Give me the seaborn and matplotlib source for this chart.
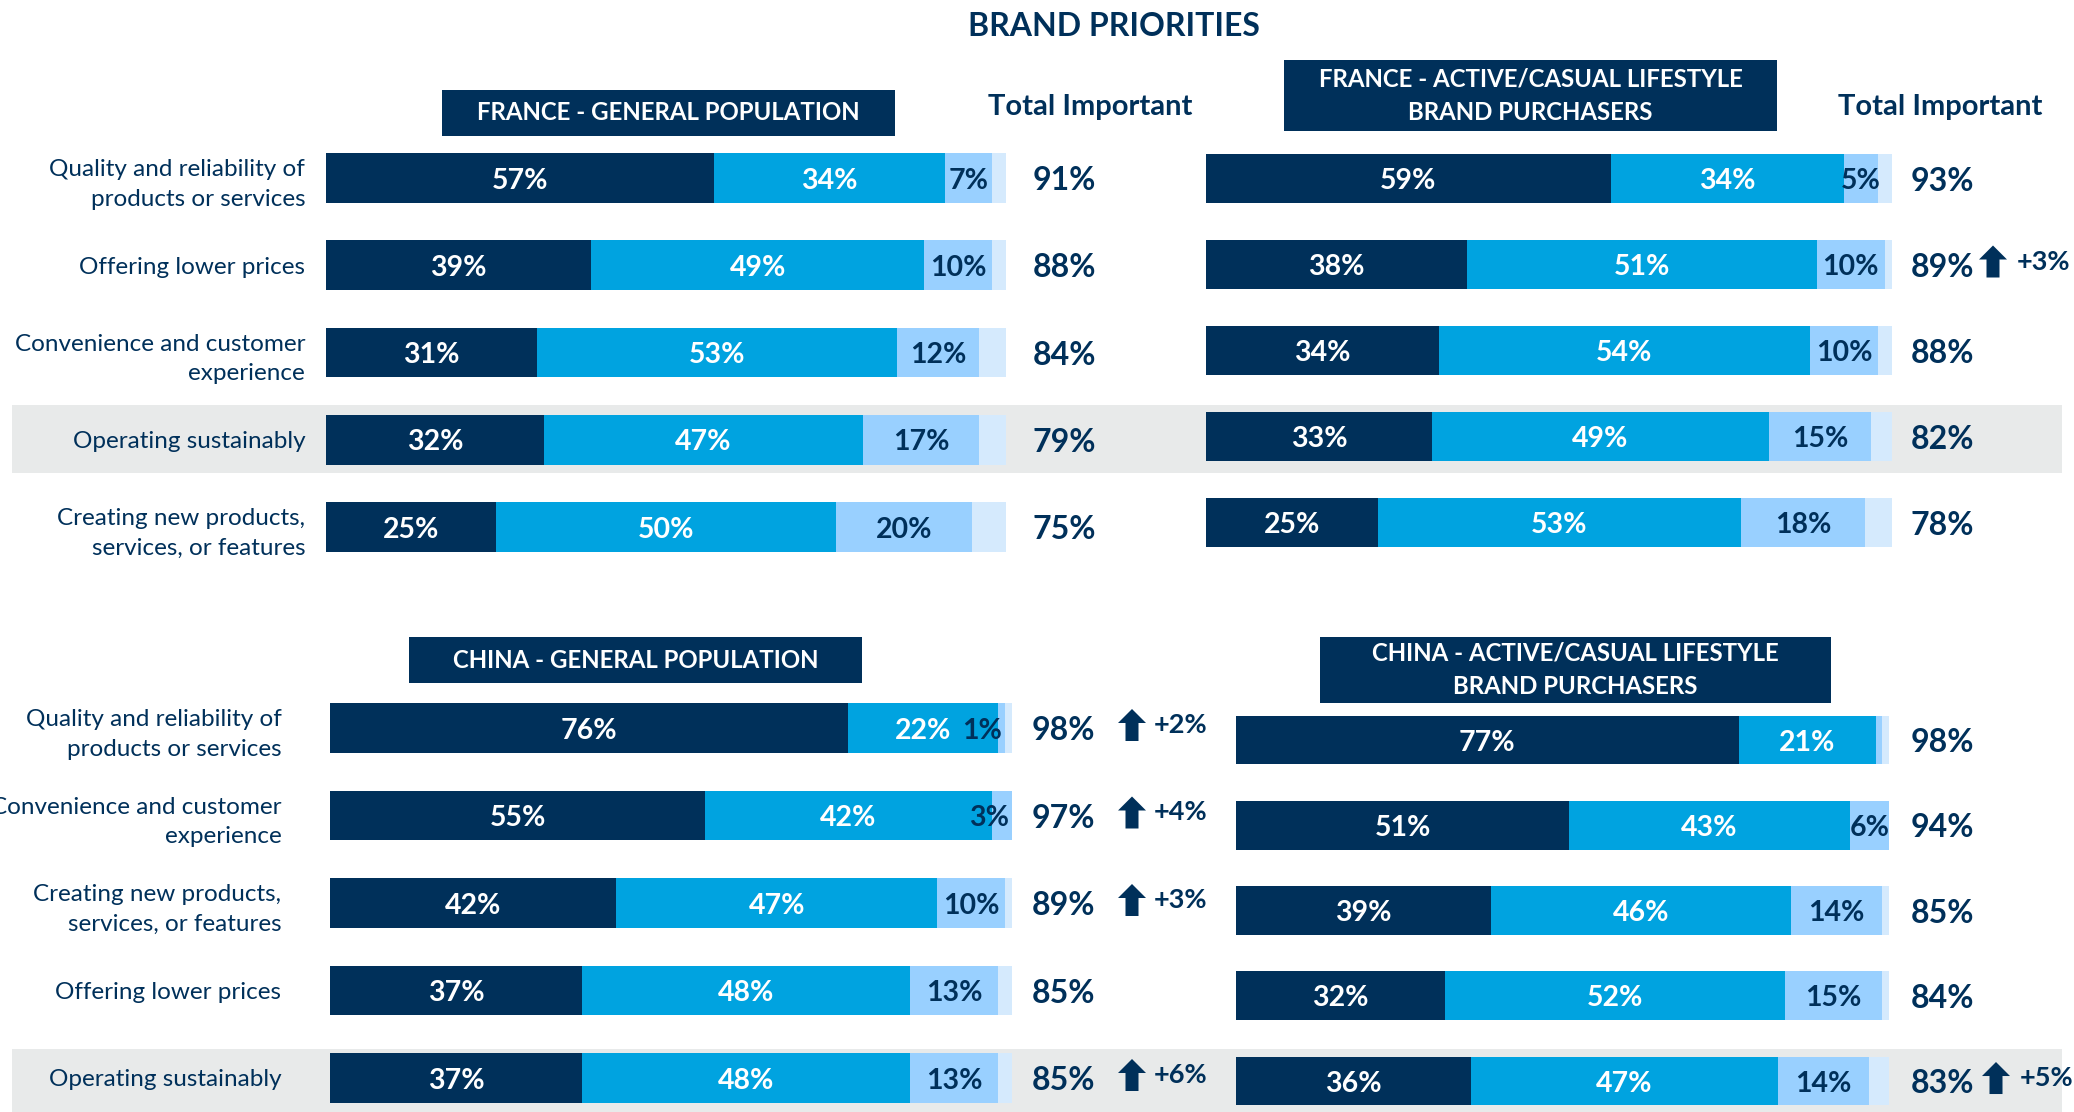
import matplotlib
matplotlib.use('Agg')
import matplotlib.pyplot as plt
import seaborn as sns
from matplotlib.patches import Rectangle, Polygon
from matplotlib.transforms import blended_transform_factory

# ---- data ----
france_cats = ["Quality and reliability of\nproducts or services", "Offering lower prices",
               "Convenience and customer\nexperience", "Operating sustainably",
               "Creating new products,\nservices, or features"]
china_cats = ["Quality and reliability of\nproducts or services", "Convenience and customer\nexperience",
              "Creating new products,\nservices, or features", "Offering lower prices",
              "Operating sustainably"]

fr_gen_very = [57, 39, 31, 32, 25]
fr_gen_somewhat = [34, 49, 53, 47, 50]
fr_gen_slightly = [7, 10, 12, 17, 20]
fr_gen_total = [91, 88, 84, 79, 75]
fr_gen_change = [0, 0, 0, 0, 0]

fr_act_very = [59, 38, 34, 33, 25]
fr_act_somewhat = [34, 51, 54, 49, 53]
fr_act_slightly = [5, 10, 10, 15, 18]
fr_act_total = [93, 89, 88, 82, 78]
fr_act_change = [0, 3, 0, 0, 0]

cn_gen_very = [76, 55, 42, 37, 37]
cn_gen_somewhat = [22, 42, 47, 48, 48]
cn_gen_slightly = [1, 3, 10, 13, 13]
cn_gen_total = [98, 97, 89, 85, 85]
cn_gen_change = [2, 4, 3, 0, 6]

cn_act_very = [77, 51, 39, 32, 36]
cn_act_somewhat = [21, 43, 46, 52, 47]
cn_act_slightly = [1, 6, 14, 15, 14]
cn_act_slight_shown = [False, True, True, True, True]
cn_act_total = [98, 94, 85, 84, 83]
cn_act_change = [0, 0, 0, 0, 5]

sns.set_style('white')
plt.rcParams['font.family'] = ['Lato', 'DejaVu Sans']

W, H = 2074, 1112
fig = plt.figure(figsize=(W / 100, H / 100), dpi=100)

NAVY = '#00305A'
MID = '#00A3E0'
LIGHT = '#99D0FF'
PALE = '#D5EAFD'
GREY = '#E8EAEA'


def px_rect(x, y, w, h, color, z):
    fig.add_artist(Rectangle((x / W, 1 - (y + h) / H), w / W, h / H, transform=fig.transFigure,
                             facecolor=color, edgecolor='none', zorder=z))


def up_arrow(cx, yc):
    top, bot = yc - 16, yc + 16
    pts = [(cx - 14, top + 14), (cx, top), (cx + 14, top + 14), (cx + 6.5, top + 14),
           (cx + 6.5, bot), (cx - 6.5, bot), (cx - 6.5, top + 14)]
    fig.add_artist(Polygon([(x / W, 1 - y / H) for x, y in pts], closed=True,
                           transform=fig.transFigure, facecolor=NAVY, edgecolor='none', zorder=5))


def header(x, y, w, h, txt):
    px_rect(x, y, w, h, NAVY, 3)
    fig.text((x + w / 2) / W, 1 - (y + h / 2) / H, txt, ha='center', va='center', color='white',
             fontsize=17.3, fontweight='bold', linespacing=1.55, zorder=4)


def panel(left, top, width, spacing, cats, very, somewhat, slightly, totals, changes,
          show_cats, label_pad, total_x, arrow_dx, delta_dx, slight_shown=None):
    ax = fig.add_axes([left / W, 1 - (top + 5 * spacing) / H, width / W, 5 * spacing / H])
    ax.set_facecolor('none')
    cum3 = [a + b + c for a, b, c in zip(very, somewhat, slightly)]
    cum2 = [a + b for a, b in zip(very, somewhat)]
    for vals, col in [([100] * 5, PALE), (cum3, LIGHT), (cum2, MID), (very, NAVY)]:
        sns.barplot(x=vals, y=cats, orient='h', color=col, saturation=1, width=0.57,
                    linewidth=0, ax=ax)
    ax.set_xlim(0, 100)
    ax.set_ylim(4.5, -0.5)
    ax.set_xticks([])
    ax.set_xlabel('')
    ax.set_ylabel('')
    sns.despine(ax=ax, left=True, bottom=True)
    ax.tick_params(axis='y', length=0, pad=label_pad)
    if show_cats:
        ax.set_yticks(range(5))
        ax.set_yticklabels(cats, fontsize=17.5, color=NAVY, linespacing=1.5)
    else:
        ax.set_yticklabels([])

    for i in range(5):
        segs = [(0, very[i], very[i], 'white', True),
                (very[i], cum2[i], somewhat[i], 'white', True),
                (cum2[i], cum3[i], slightly[i], NAVY,
                 True if slight_shown is None else slight_shown[i])]
        for a, b, v, c, show in segs:
            if not show:
                continue
            if b - a <= 3:
                ax.text(b - 0.4, i + 0.03, f'{v}%', ha='right', va='center', color=c,
                        fontsize=20.5, fontweight='bold')
            else:
                ax.text((a + b) / 2, i + 0.03, f'{v}%', ha='center', va='center', color=c,
                        fontsize=20.5, fontweight='bold')

    tr = blended_transform_factory(fig.transFigure, ax.transData)
    for i in range(5):
        ax.text(total_x / W, i + 0.03, f'{totals[i]}%', transform=tr, ha='left', va='center',
                color=NAVY, fontsize=23, fontweight='bold')
        if changes[i]:
            yc = top + spacing * (i + 0.5) - 3
            up_arrow(total_x + arrow_dx, yc)
            fig.text((total_x + delta_dx) / W, 1 - yc / H, f'+{changes[i]}%', ha='left',
                     va='center', color=NAVY, fontsize=19.5, fontweight='bold')
    return ax


# grey highlight bands
px_rect(12, 405, 2050, 68, GREY, -2)
px_rect(12, 1049, 2050, 63, GREY, -2)

fig.text(1114 / W, 1 - 27 / H, 'BRAND PRIORITIES', ha='center', va='center', color=NAVY,
         fontsize=23, fontweight='bold')

header(442, 90, 453, 46, 'FRANCE - GENERAL POPULATION')
header(1284, 60, 493, 71, 'FRANCE - ACTIVE/CASUAL LIFESTYLE\nBRAND PURCHASERS')
header(409, 637, 453, 46, 'CHINA - GENERAL POPULATION')
header(1320, 637, 511, 66, 'CHINA - ACTIVE/CASUAL LIFESTYLE\nBRAND PURCHASERS')

for cx in [1090, 1940]:
    fig.text(cx / W, 1 - 107 / H, 'Total Important', ha='center', va='center', color=NAVY,
             fontsize=21, fontweight='bold')

panel(326, 134.4, 680, 87.25, france_cats, fr_gen_very, fr_gen_somewhat, fr_gen_slightly,
      fr_gen_total, fr_gen_change, True, 15, 1033, 0, 0)
panel(1206, 135.5, 686, 86, france_cats, fr_act_very, fr_act_somewhat, fr_act_slightly,
      fr_act_total, fr_act_change, False, 0, 1911, 82, 106)
panel(330, 684.25, 682, 87.5, china_cats, cn_gen_very, cn_gen_somewhat, cn_gen_slightly,
      cn_gen_total, cn_gen_change, True, 35, 1032, 100, 122)
panel(1236, 697.4, 653, 85.25, china_cats, cn_act_very, cn_act_somewhat, cn_act_slightly,
      cn_act_total, cn_act_change, False, 0, 1911, 85, 109, cn_act_slight_shown)

fig.savefig('out.png', dpi=100)
